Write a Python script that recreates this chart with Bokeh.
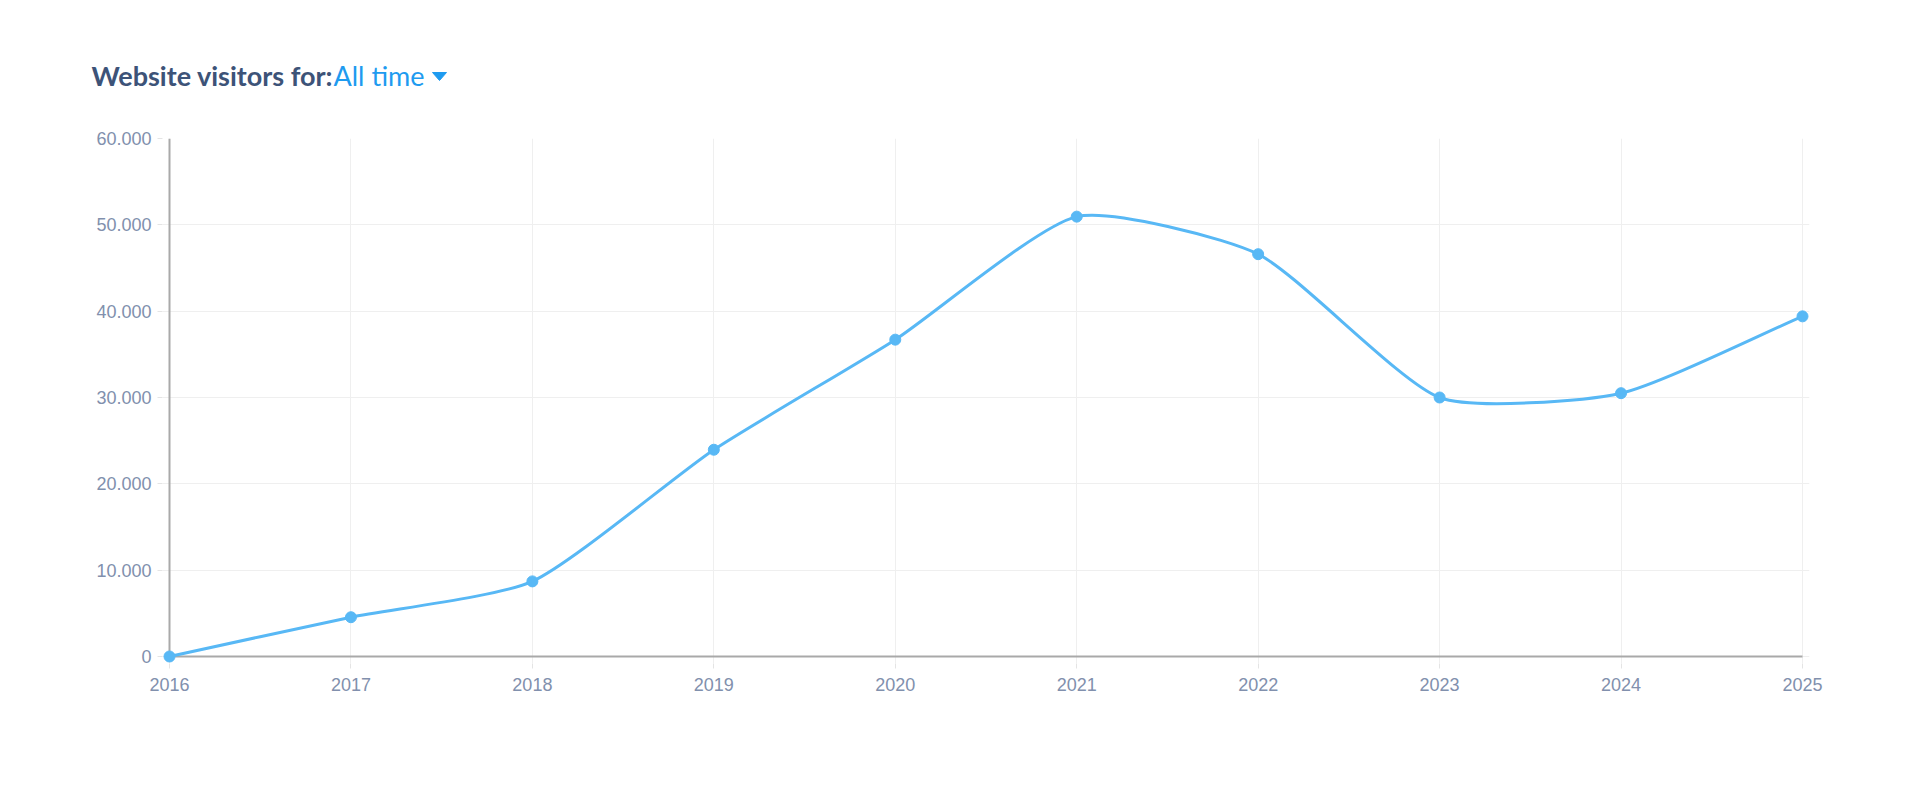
import math
from bokeh.plotting import figure
from bokeh.layouts import column
from bokeh.models import Range1d, FixedTicker, ColumnDataSource
from bokeh.core.properties import value
from bokeh.embed import file_html
from bokeh.resources import INLINE

# ---------------- data ----------------
years = [2016, 2017, 2018, 2019, 2020, 2021, 2022, 2023, 2024, 2025]
visitors = [0, 4550, 8700, 23950, 36700, 50950, 46600, 30000, 30500, 39400]
x_tick_labels = [str(y) for y in years]
y_ticks = [0, 10000, 20000, 30000, 40000, 50000, 60000]
y_tick_labels = ["0", "10.000", "20.000", "30.000", "40.000", "50.000", "60.000"]
title_text = "Website visitors for:"
period_text = "All time"

# ---------------- layout (pixels) ----------------
W = 1904
HH = 110                       # header height
TOTAL_H = 790
AX_LEFT, AX_RIGHT = 169, 1802  # page x of first / last year
AX_TOP, AX_BOTTOM = 138, 656   # page y of top tick / zero
PAD = 7                        # room so end markers are not clipped
H_MAIN = TOTAL_H - HH
BL = AX_LEFT - PAD
BR = W - (AX_RIGHT + PAD)
BT = AX_TOP - HH
BB = TOTAL_H - (AX_BOTTOM + PAD)

X0, X1 = years[0], years[-1]
Y0, Y1 = y_ticks[0], y_ticks[-1]
sx = (AX_RIGHT - AX_LEFT) / (X1 - X0)
sy = (AX_BOTTOM - AX_TOP) / (Y1 - Y0)

LINE = "#58B8F5"
LABEL = "#8190AD"
TITLE = "#3D5378"
ACCENT = "#1E9BF0"
AXIS = "#A9A9A9"
GRID = "#EFEFEF"

# smooth curve control points (pixel space, Catmull-Rom style like Chart.js)
tension = 0.2
px = [(x - X0) * sx for x in years]
py = [(v - Y0) * sy for v in visitors]
n = len(px)
cprev, cnext = [], []
for i in range(n):
    a = i - 1 if i > 0 else i
    b = i + 1 if i < n - 1 else i
    d01 = math.hypot(px[i] - px[a], py[i] - py[a])
    d12 = math.hypot(px[b] - px[i], py[b] - py[i])
    tot = d01 + d12
    s01 = d01 / tot if tot else 0
    s12 = d12 / tot if tot else 0
    fa, fb = tension * s01, tension * s12
    dx, dy = px[b] - px[a], py[b] - py[a]
    cprev.append((px[i] - fa * dx, py[i] - fa * dy))
    cnext.append((px[i] + fb * dx, py[i] + fb * dy))

def to_data(pt):
    return X0 + pt[0] / sx, Y0 + pt[1] / sy

seg = dict(x0=[], y0=[], x1=[], y1=[], cx0=[], cy0=[], cx1=[], cy1=[])
for i in range(n - 1):
    seg["x0"].append(years[i]); seg["y0"].append(visitors[i])
    seg["x1"].append(years[i + 1]); seg["y1"].append(visitors[i + 1])
    c0 = to_data(cnext[i]); c1 = to_data(cprev[i + 1])
    seg["cx0"].append(c0[0]); seg["cy0"].append(c0[1])
    seg["cx1"].append(c1[0]); seg["cy1"].append(c1[1])

# ---------------- header ----------------
hdr = figure(width=W, height=HH, x_range=Range1d(0, W), y_range=Range1d(HH, 0),
             output_backend="svg", toolbar_location=None,
             x_axis_type=None, y_axis_type=None,
             min_border_left=0, min_border_right=0, min_border_top=0, min_border_bottom=0)
hdr.frame_align = False
hdr.outline_line_color = None
hdr.grid.visible = False
hdr.text(x=[91], y=[75], text=[title_text], text_baseline="alphabetic", text_align="left",
         text_font=value("Lato"), text_font_style="bold", text_font_size="27px",
         text_color=TITLE)
hdr.text(x=[333], y=[75], text=[period_text], text_baseline="alphabetic", text_align="left",
         text_font=value("Lato"), text_font_size="27px", text_color=ACCENT)
hdr.patch(x=[432, 446, 439], y=[72, 72, 80], fill_color=ACCENT, line_color=ACCENT)

# ---------------- main chart ----------------
p = figure(width=W, height=H_MAIN,
           x_range=Range1d(X0 - PAD / sx, X1 + PAD / sx),
           y_range=Range1d(Y0 - PAD / sy, Y1),
           output_backend="svg", toolbar_location=None,
           min_border_left=BL, min_border_right=BR, min_border_top=BT, min_border_bottom=BB)
p.frame_align = False
p.outline_line_color = None

for ax in (p.xaxis[0], p.yaxis[0]):
    ax.axis_line_color = None
    ax.major_tick_line_color = "#E4E4E4"
    ax.major_tick_line_width = 1
    ax.major_tick_out = 5
    ax.major_tick_in = 0
    ax.minor_tick_line_color = None
    ax.major_label_text_font = "Liberation Sans"
    ax.major_label_text_font_size = "18px"
    ax.major_label_text_color = LABEL

p.xaxis.ticker = FixedTicker(ticks=years)
p.xaxis.major_label_overrides = {y: l for y, l in zip(years, x_tick_labels)}
p.xaxis.major_label_standoff = 9
p.yaxis.ticker = FixedTicker(ticks=y_ticks)
p.yaxis.major_label_overrides = {t: l for t, l in zip(y_ticks, y_tick_labels)}
p.yaxis.major_label_standoff = 6

p.xgrid.grid_line_color = GRID
p.ygrid.grid_line_color = GRID

# axis lines at the zero value and the first year
p.segment(x0=[X0, X0], y0=[Y0, Y0], x1=[X1, X0], y1=[Y0, Y1], line_color=AXIS, line_width=2)

p.bezier(x0="x0", y0="y0", x1="x1", y1="y1", cx0="cx0", cy0="cy0", cx1="cx1", cy1="cy1",
         source=ColumnDataSource(seg), line_color=LINE, line_width=3)
p.scatter(years, visitors, size=11, fill_color=LINE, line_color=LINE)

layout = column(hdr, p, spacing=0)
open("out.html", "w").write(file_html(layout, INLINE))
